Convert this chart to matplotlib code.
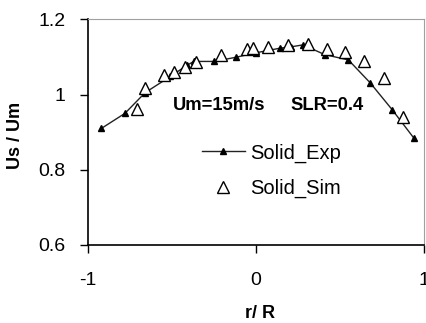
import matplotlib
matplotlib.use("Agg")
import matplotlib.pyplot as plt

plt.rcParams['font.family'] = ['Liberation Sans', 'DejaVu Sans']
plt.rcParams['axes.unicode_minus'] = False

exp_x = [-0.92, -0.78, -0.66, -0.51, -0.41, -0.37, -0.25, -0.12, 0.0, 0.14, 0.21, 0.28, 0.41, 0.55, 0.68, 0.81, 0.94]
exp_y = [0.91, 0.95, 1.005, 1.048, 1.078, 1.088, 1.088, 1.099, 1.111, 1.123, 1.127, 1.132, 1.106, 1.092, 1.031, 0.96, 0.884]

sim_x = [-0.71, -0.66, -0.55, -0.49, -0.42, -0.36, -0.21, -0.055, -0.015, 0.07, 0.19, 0.31, 0.42, 0.53, 0.64, 0.76, 0.875]
sim_y = [0.962, 1.017, 1.052, 1.061, 1.074, 1.086, 1.105, 1.12, 1.123, 1.127, 1.132, 1.134, 1.12, 1.114, 1.089, 1.043, 0.941]

x_ticks = [-1, 0, 1]
y_ticks = [0.6, 0.8, 1.0, 1.2]
y_tick_labels = ['0.6', '0.8', '1', '1.2']

fig = plt.figure(figsize=(4.26, 3.23), dpi=100)
ax = fig.add_axes([88/426, 1-245/323, (424-88)/426, (245-19.3)/323])

ax.plot(exp_x, exp_y, color='#222222', lw=1.0, marker='^', ms=5,
        mfc='black', mec='black', label='Solid_Exp')
ax.plot(sim_x, sim_y, ls='none', marker='^', ms=8.5, mfc='white',
        mec='black', mew=1.0, label='Solid_Sim')

ax.set_xlim(-1, 1)
ax.set_ylim(0.6, 1.2)
ax.set_xticks(x_ticks)
ax.set_yticks(y_ticks)
ax.set_yticklabels(y_tick_labels)
ax.tick_params(axis='both', direction='out', length=5.5, width=1, labelsize=14, pad=10.5)
ax.tick_params(axis='x', pad=14)

for s in ['top', 'right']:
    ax.spines[s].set_color('#a0a0a0')
for s in ['left', 'bottom']:
    ax.spines[s].set_color('black')
    ax.spines[s].set_linewidth(1.2)

ax.set_xlabel('r/ R', fontsize=13, fontweight='bold')
ax.set_ylabel('Us / Um', fontsize=13, fontweight='bold')
ax.xaxis.set_label_coords(0.512, -0.266)
ax.yaxis.set_label_coords(-0.19, 0.487)

ax.text(0.253, 0.616, 'Um=15m/s', transform=ax.transAxes, ha='left', va='center',
        fontsize=13.2, fontweight='bold')
ax.text(0.821, 0.616, 'SLR=0.4', transform=ax.transAxes, ha='right', va='center',
        fontsize=13.2, fontweight='bold')

ax.legend(loc='upper left', bbox_to_anchor=(0.286, 0.531), frameon=False, fontsize=14.5,
          handlelength=2.1, handletextpad=0.3, labelspacing=0.8)

fig.savefig('out.png', dpi=100)
